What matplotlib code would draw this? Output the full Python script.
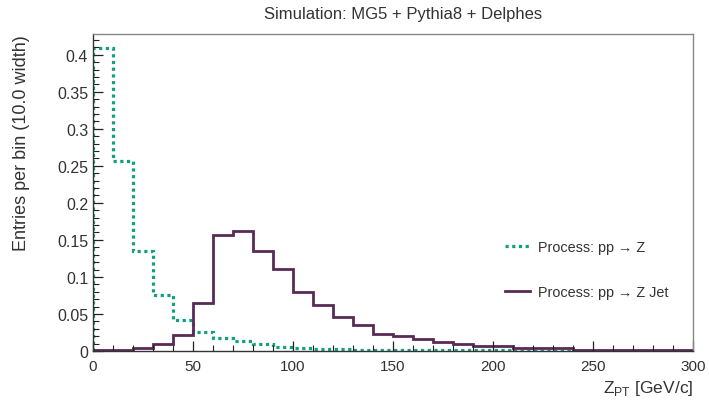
import matplotlib
matplotlib.use("Agg")
import matplotlib.pyplot as plt
import numpy as np
from matplotlib.ticker import MultipleLocator, FuncFormatter

plt.rcParams['font.family'] = ['Liberation Sans', 'DejaVu Sans']

bin_edges = np.arange(0, 310, 10)
z_values = [0.409, 0.256, 0.135, 0.076, 0.042, 0.026, 0.017, 0.013, 0.0095, 0.005,
            0.004, 0.003, 0.0025, 0.002, 0.002, 0.002, 0.002, 0.002, 0.002, 0.002,
            0.002, 0.0006, 0.0006, 0.0006, 0.0006, 0.0006, 0.0005, 0.0005, 0.0005, 0.0005]
zjet_values = [0.0015, 0.0018, 0.0036, 0.0095, 0.0216, 0.065, 0.157, 0.1626, 0.1356, 0.111,
               0.080, 0.062, 0.0455, 0.0355, 0.023, 0.0205, 0.0165, 0.0117, 0.0095, 0.0072,
               0.0072, 0.0036, 0.0036, 0.0036, 0.002, 0.002, 0.001, 0.001, 0.001, 0.001]
labels = ["Process: pp \u2192 Z", "Process: pp \u2192 Z Jet"]
title = "Simulation: MG5 + Pythia8 + Delphes"
green = '#13a07c'
purple = '#5a2a56'

fig = plt.figure(figsize=(7.09, 4.02), dpi=100)
ax = fig.add_axes([0.1312, 0.1244, 0.9774 - 0.1312, 0.913 - 0.1244])

ax.stairs(z_values, bin_edges, color=green, lw=2.3, linestyle=(0, (1, 1.1)), label=labels[0])
ax.stairs(zjet_values, bin_edges, color=purple, lw=2.0, label=labels[1])

ax.set_xlim(0, 300)
ax.set_ylim(0, 0.428)
ax.xaxis.set_major_locator(MultipleLocator(50))
ax.xaxis.set_minor_locator(MultipleLocator(10))
ax.yaxis.set_major_locator(MultipleLocator(0.05))
ax.yaxis.set_minor_locator(MultipleLocator(0.01))
ax.yaxis.set_major_formatter(FuncFormatter(lambda v, p: f"{v:g}"))
ax.tick_params(which='both', direction='in', colors='#222222', labelcolor='#333333')
ax.tick_params(axis='y', labelsize=11.5)
ax.tick_params(axis='x', labelsize=11, pad=6)
ax.tick_params(which='major', length=7, width=0.9)
ax.tick_params(which='minor', length=4, width=0.8)
for s in ax.spines.values():
    s.set_color('#888888')
    s.set_linewidth(1.0)
ax.spines['left'].set_color('#333333')
ax.spines['bottom'].set_color('#333333')

ax.set_ylabel("Entries per bin (10.0 width)", fontsize=13, color='#333333')
ax.yaxis.label.set_rotation_mode('anchor')
ax.yaxis.set_label_coords((21 - 93) / 600, (352 - 35) / 317)
ax.yaxis.label.set_horizontalalignment('right')
ax.yaxis.label.set_verticalalignment('center')
ax.set_xlabel(r"Z$_{\mathregular{PT}}$ [GeV/c]", fontsize=12.5, color='#333333')
ax.xaxis.set_label_coords(1.0, -0.085)
ax.xaxis.label.set_horizontalalignment('right')

fig.text(403 / 709, 1 - 14 / 402, title, ha='center', va='center', fontsize=12, color='#333333')

leg = ax.legend(loc='center left', bbox_to_anchor=(0.687, 0.257), frameon=False, fontsize=10.4,
                handlelength=1.74, labelspacing=2.1, handletextpad=0.55, labelcolor='#333333',
                borderpad=0, borderaxespad=0)

fig.savefig("out.png", dpi=100)
